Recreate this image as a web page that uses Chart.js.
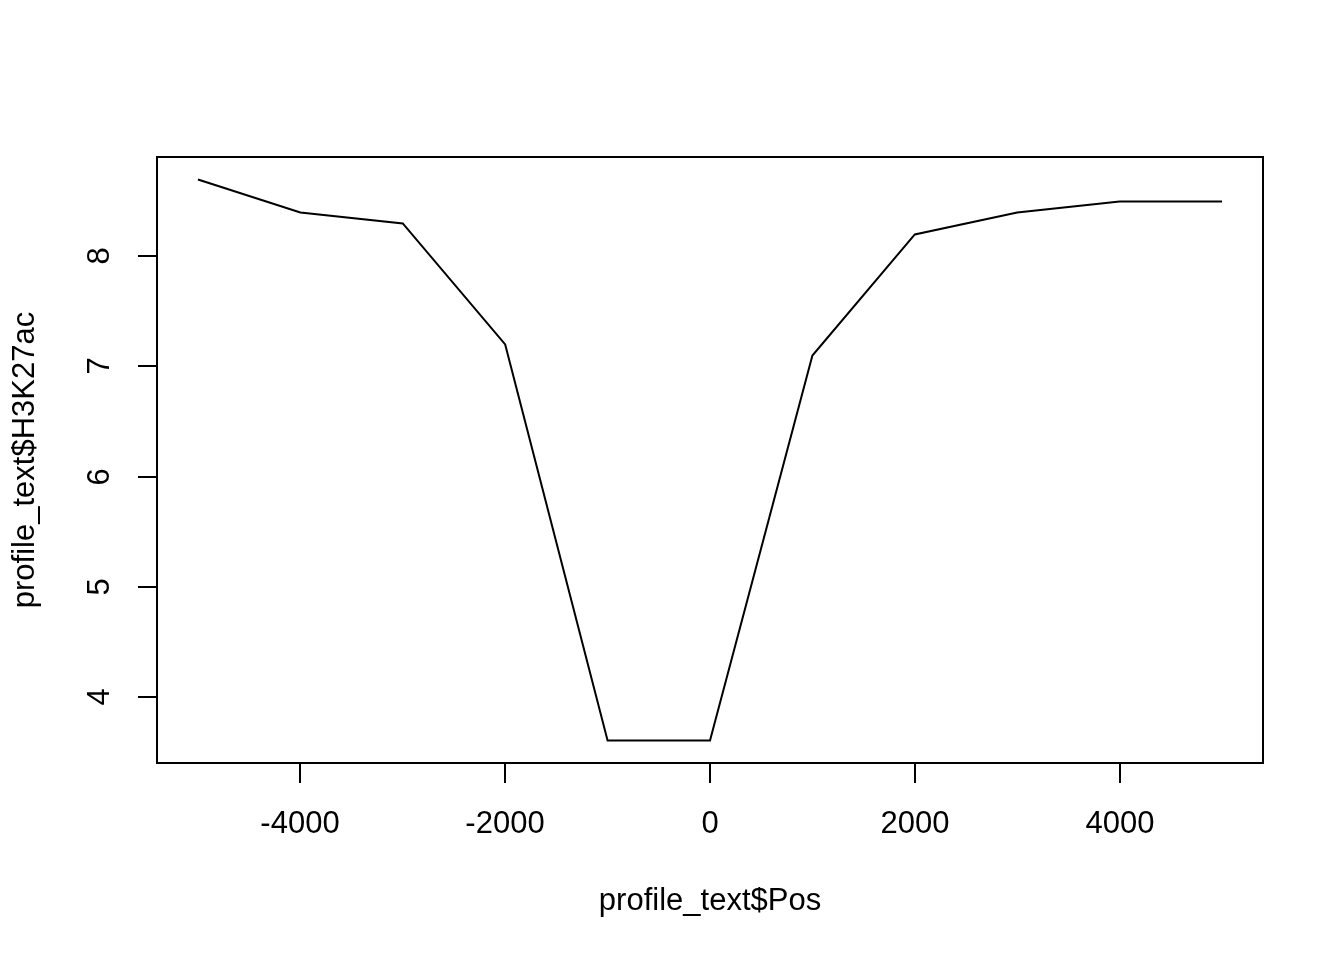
<!DOCTYPE html>
<html>
<head>
<meta charset="utf-8">
<script src="https://cdn.jsdelivr.net/npm/chart.js@4"></script>
<style>
    body { margin: 0; background: #fff; }
    canvas { display: block; }
</style>
</head>
<body>
<canvas id="profileChart" width="1344" height="960"></canvas>
<script>
// profile of H3K27ac around position
const positions = [-5000, -4000, -3000, -2000, -1000, 0, 1000, 2000, 3000, 4000, 5000];
const h3k27ac = [8.7, 8.4, 8.3, 7.2, 3.6, 3.6, 7.1, 8.2, 8.4, 8.5, 8.5];
const xTicks = [-4000, -2000, 0, 2000, 4000];
const yTicks = [4, 5, 6, 7, 8];

const FONT = "31px 'Liberation Sans', Arial, sans-serif";

// base-R style frame, ticks and labels
const rAxes = {
    id: 'rAxes',
    afterDraw(chart) {
        const { ctx, chartArea: a, scales } = chart;
        ctx.save();
        ctx.strokeStyle = '#000';
        ctx.fillStyle = '#000';
        ctx.lineWidth = 2;
        ctx.strokeRect(a.left, a.top, a.right - a.left, a.bottom - a.top);

        ctx.font = FONT;
        ctx.textAlign = 'center';
        ctx.textBaseline = 'middle';

        xTicks.forEach(v => {
            const x = Math.round(scales.x.getPixelForValue(v));
            ctx.beginPath();
            ctx.moveTo(x, a.bottom);
            ctx.lineTo(x, a.bottom + 20);
            ctx.stroke();
            ctx.fillText(String(v), x, 824);
        });

        yTicks.forEach(v => {
            const y = Math.round(scales.y.getPixelForValue(v));
            ctx.beginPath();
            ctx.moveTo(a.left, y);
            ctx.lineTo(a.left - 19, y);
            ctx.stroke();
            ctx.save();
            ctx.translate(100, y);
            ctx.rotate(-Math.PI / 2);
            ctx.fillText(String(v), 0, 0);
            ctx.restore();
        });

        ctx.fillText('profile_text$Pos', (a.left + a.right) / 2, 901);
        ctx.translate(25, (a.top + a.bottom) / 2);
        ctx.rotate(-Math.PI / 2);
        ctx.fillText('profile_text$H3K27ac', 0, 0);
        ctx.restore();
    }
};

new Chart(document.getElementById('profileChart'), {
    type: 'line',
    data: {
        labels: positions,
        datasets: [{
            data: positions.map((p, i) => ({ x: p, y: h3k27ac[i] })),
            borderColor: '#000',
            borderWidth: 2,
            pointRadius: 0,
            tension: 0,
            fill: false
        }]
    },
    options: {
        responsive: false,
        animation: false,
        layout: { padding: { left: 157, top: 157, right: 81, bottom: 197 } },
        plugins: { legend: { display: false }, tooltip: { enabled: false } },
        scales: {
            x: { type: 'linear', display: false, min: -5400, max: 5400 },
            y: { type: 'linear', display: false, min: 3.396, max: 8.904 }
        }
    },
    plugins: [rAxes]
});
</script>
</body>
</html>
